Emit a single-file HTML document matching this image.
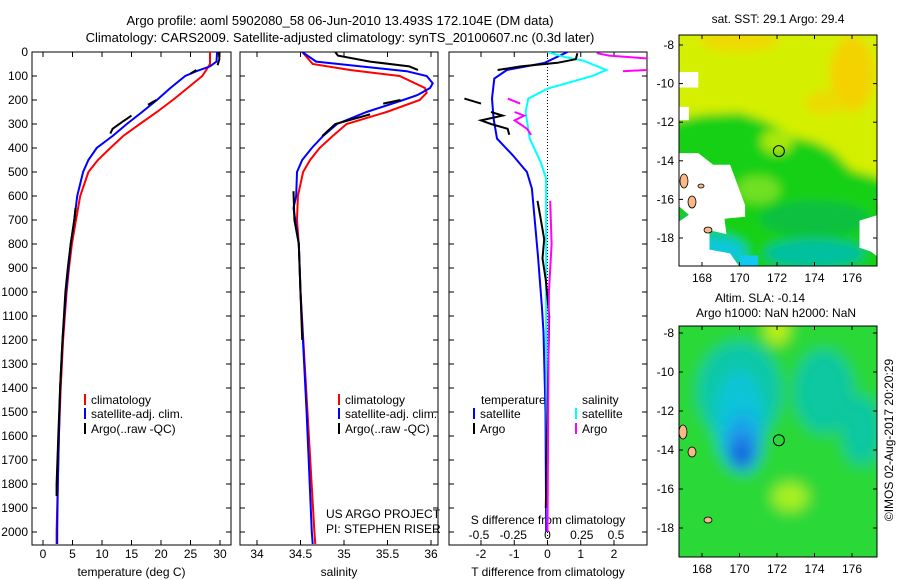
<!DOCTYPE html>
<html><head><meta charset="utf-8">
<style>
html,body{margin:0;padding:0;background:#fff;}
svg{display:block;font-family:"Liberation Sans",sans-serif;}
text{font-size:12px;fill:#000;}
</style></head>
<body>
<svg id="chart" width="900" height="580" viewBox="0 0 900 580">
<defs>
<filter id="blur1" x="-20%" y="-20%" width="140%" height="140%"><feGaussianBlur stdDeviation="5"/></filter>
<filter id="blur2" x="-20%" y="-20%" width="140%" height="140%"><feGaussianBlur stdDeviation="7"/></filter>
<clipPath id="clipM1"><rect x="679" y="35" width="198" height="231"/></clipPath>
<clipPath id="clipM2"><rect x="679" y="326" width="198" height="231"/></clipPath>
<clipPath id="clipP1"><rect x="32" y="52" width="199" height="493"/></clipPath>
<clipPath id="clipP2"><rect x="240" y="52" width="198" height="493"/></clipPath>
<clipPath id="clipP3"><rect x="449" y="52" width="198" height="493"/></clipPath>
</defs>
<text x="340" y="25" text-anchor="middle" style="font-size:13px">Argo profile: aoml 5902080_58 06-Jun-2010 13.493S 172.104E (DM data)</text>
<text x="340" y="42" text-anchor="middle" style="font-size:13px">Climatology: CARS2009. Satellite-adjusted climatology: synTS_20100607.nc (0.3d later)</text>
<g id="g-axes"></g>
<g id="g-lines"></g>
<g id="g-maps"></g>
</svg>
<script>
// ---------- data ----------
const depthTicks = [0,100,200,300,400,500,600,700,800,900,1000,1100,1200,1300,1400,1500,1600,1700,1800,1900,2000];
const tempTicks = [0,5,10,15,20,25,30];
const salTicks = [34,34.5,35,35.5,36];
const salTickLabels = ["34","34.5","35","35.5","36"];
const tdiffTicks = [-2,-1,0,1,2];
const sdiffTickLabels = ["-0.5","-0.25","0","0.25","0.5"];
const sdiffTicks = [-0.5,-0.25,0,0.25,0.5];

const tClimDepth = [0,50,70,100,150,200,250,300,350,400,450,500,600,700,800,900,1000,1200,1400,1600,1800,2000,2050];
const tClimVal   = [28.3,28.3,27.8,27.0,24.5,22,19.3,16.4,13.6,11.4,9.3,7.7,6.3,5.6,4.9,4.4,4.0,3.4,3.0,2.7,2.5,2.3,2.3];
const tSatDepth = [0,40,60,80,100,150,200,250,300,350,400,450,500,600,700,800,900,1000,1200,1400,1600,1800,2000,2050];
const tSatVal   = [29.5,29.4,28.3,26,24.1,21.6,19.3,16.8,14.2,11.8,9.1,7.7,6.8,5.8,5.3,4.7,4.3,3.9,3.3,2.9,2.7,2.5,2.4,2.4];
const tArgoDepth = [0,30,55,null,75,90,null,200,220,null,265,290,320,340,null,650,700,800,900,1000,1200,1400,1600,1800,1850];
const tArgoVal   = [29.8,29.9,29.6,null,26,25,null,19.2,17.8,null,15,13.5,11.8,11.4,null,5.5,5.3,4.7,4.2,3.8,3.3,2.9,2.6,2.3,2.3];

const sClimDepth = [0,50,75,100,150,170,200,250,300,350,400,450,500,600,700,800,1000,1500,2000,2050];
const sClimVal   = [34.52,34.64,35.07,35.64,35.93,35.95,35.87,35.49,35.03,34.87,34.72,34.61,34.53,34.47,34.46,34.48,34.5,34.58,34.66,34.67];
const sSatDepth = [0,40,80,100,130,150,180,200,250,300,350,400,450,500,600,650,800,1000,1500,2000,2050];
const sSatVal   = [34.52,34.68,35.72,35.95,36.02,35.99,35.84,35.68,35.26,34.92,34.76,34.63,34.52,34.46,34.45,34.42,34.48,34.5,34.57,34.63,34.64];
const sArgoDepth = [0,15,40,60,75,null,200,215,null,260,280,300,350,null,580,700,800,1000,1200];
const sArgoVal   = [34.9,34.93,35.3,35.75,35.85,null,35.65,35.45,null,35.3,35.1,34.9,34.75,null,34.42,34.43,34.48,34.5,34.52];

const dTSatDepth = [0,46,75,111,194,278,361,431,500,569,708,847,1056,1167,1500,2000];
const dTSatVal   = [0.6,-0.1,-1.22,-1.6,-1.67,-1.62,-1.52,-1.04,-0.62,-0.47,-0.38,-0.29,-0.17,-0.12,-0.06,-0.04];
const dSSatDepth = [0,20,36,75,99,153,194,250,361,458,528,800,1200,1600,2000];
const dSSatVal   = [0,0.12,0.26,0.43,0.33,0,-0.14,-0.16,-0.13,-0.05,-0.01,-0.01,-0.01,-0.005,0];
const dTArgoDepth = [5,30,45,60,75,null,194,215,null,250,265,285,300,320,345,null,620,700,780,860,950,1100,1500,1900];
const dTArgoVal   = [0.9,0.85,0.3,-0.8,-1.5,null,-2.5,-2.0,null,-1.7,-1.35,-2.0,-1.7,-1.2,-1.15,null,-0.3,-0.2,-0.1,-0.15,-0.05,0.05,0.0,-0.05];
const dSArgoDepth = [5,15,30,50,null,70,80,null,194,215,null,250,265,285,300,320,345,null,620,800,1000,1500,2000];
const dSArgoVal   = [0.36,0.45,0.8,0.9,null,0.9,0.55,null,-0.29,-0.2,null,-0.24,-0.17,-0.24,-0.2,-0.15,-0.12,null,0.02,0.03,0.01,0.005,0];

const lonTicks = [168,170,172,174,176];
const latTicks = [-8,-10,-12,-14,-16,-18];

// ---------- scales ----------
const Y0=52, YB=545;
const yD = d => Y0 + d*0.24;
const xT = t => 43 + t*5.9;
const xS = s => 257 + (s-34)*87;
const xDT = t => 547.5 + t*33.25;
const xDS = s => 547.5 + s*137;
const m1x = lon => 702 + (lon-168)*18.75, m1y = lat => 45 + (-8-lat)*19.3;
const m2x = lon => 702 + (lon-168)*18.75, m2y = lat => 333 + (-8-lat)*19.5;

const NS='http://www.w3.org/2000/svg';
function mk(tag, parent, attrs){const e=document.createElementNS(NS,tag);for(const k in attrs)e.setAttribute(k,attrs[k]);parent.appendChild(e);return e;}
const gA=document.getElementById('g-axes'), gL=document.getElementById('g-lines'), gM=document.getElementById('g-maps');

// ---------- profile panels ----------
function panel(x0,x1,name,xs,ticks,labels,xlabel,depthLabels){
  const r=mk('rect',gA,{x:x0,y:Y0,width:x1-x0,height:YB-Y0,fill:'none',stroke:'#000','stroke-width':1});
  
  
  depthTicks.forEach(d=>{
    mk('line',gA,{x1:x0,x2:x0+5,y1:yD(d),y2:yD(d),stroke:'#000'});
    mk('line',gA,{x1:x1-5,x2:x1,y1:yD(d),y2:yD(d),stroke:'#000'});
    if(depthLabels){const t=mk('text',gA,{x:x0-4,y:yD(d)+4,'text-anchor':'end'});t.textContent=d;
      
      }
  });
  ticks.forEach((v,i)=>{
    const x=xs(v);
    mk('line',gA,{x1:x,x2:x,y1:YB,y2:YB-5,stroke:'#000'});
    mk('line',gA,{x1:x,x2:x,y1:Y0,y2:Y0+5,stroke:'#000'});
    const t=mk('text',gA,{x:x,y:558,'text-anchor':'middle'});t.textContent=labels[i];
    
    
  });
  const t=mk('text',gA,{x:(x0+x1)/2,y:576,'text-anchor':'middle'});t.textContent=xlabel;
  
  
}
panel(32,231,'temperature-panel',xT,tempTicks,tempTicks.map(String),'temperature (deg C)',true);
panel(240,438,'salinity-panel',xS,salTicks,salTickLabels,'salinity',false);
panel(449,647,'difference-panel',xDT,tdiffTicks,tdiffTicks.map(String),'T difference from climatology',false);
sdiffTicks.forEach((v,i)=>{
  const t=mk('text',gA,{x:xDS(v),y:539,'text-anchor':'middle'});t.textContent=sdiffTickLabels[i];
  
  
});
{const t=mk('text',gA,{x:548,y:524,'text-anchor':'middle'});t.textContent='S difference from climatology';

}
{const l=mk('line',gA,{x1:547.5,x2:547.5,y1:Y0,y2:YB,stroke:'#000','stroke-dasharray':'1,2'});

}

function profile(depths,vals,xs,color,name,clip){
  let pts=[];const segs=[];
  depths.forEach((d,i)=>{ if(d===null||vals[i]===null){ if(pts.length) segs.push(pts); pts=[]; } else pts.push(xs(vals[i]).toFixed(1)+','+yD(d).toFixed(1)); });
  if(pts.length) segs.push(pts);
  segs.forEach(s=>{
    const p=mk('polyline',gL,{points:s.join(' '),fill:'none',stroke:color,'stroke-width':2,'clip-path':'url(#'+clip+')'});
    
    
  });
}
profile(tClimDepth,tClimVal,xT,'#ff0000','temp-climatology-line','clipP1');
profile(tSatDepth,tSatVal,xT,'#0000ff','temp-satellite-line','clipP1');
profile(tArgoDepth,tArgoVal,xT,'#000','temp-argo-line','clipP1');
profile(sClimDepth,sClimVal,xS,'#ff0000','sal-climatology-line','clipP2');
profile(sSatDepth,sSatVal,xS,'#0000ff','sal-satellite-line','clipP2');
profile(sArgoDepth,sArgoVal,xS,'#000','sal-argo-line','clipP2');
profile(dTSatDepth,dTSatVal,xDT,'#0000ff','tdiff-satellite-line','clipP3');
profile(dSSatDepth,dSSatVal,xDS,'#00ffff','sdiff-satellite-line','clipP3');
profile(dTArgoDepth,dTArgoVal,xDT,'#000','tdiff-argo-line','clipP3');
profile(dSArgoDepth,dSArgoVal,xDS,'#ff00ff','sdiff-argo-line','clipP3');

// legends
function legend(x,y,color,label,name){
  if(color){const r=mk('rect',gA,{x:x,y:y-10,width:2,height:11,fill:color});
  
  }
  const t=mk('text',gA,{x:x+7,y:y});t.textContent=label;
  
  
}
legend(84,404,'#ff0000','climatology','legend-climatology');
legend(84,418,'#0000ff','satellite-adj. clim.','legend-satellite');
legend(84,433,'#000','Argo(..raw -QC)','legend-argo');
legend(338,404,'#ff0000','climatology','legend-climatology');
legend(338,418,'#0000ff','satellite-adj. clim.','legend-satellite');
legend(338,433,'#000','Argo(..raw -QC)','legend-argo');
legend(474,404,null,'temperature','legend-temperature');
legend(473,418,'#0000ff','satellite','legend-t-satellite');
legend(473,433,'#000','Argo','legend-t-argo');
legend(575,404,null,'salinity','legend-salinity');
legend(575,418,'#00ffff','satellite','legend-s-satellite');
legend(575,433,'#ff00ff','Argo','legend-s-argo');
{const t=mk('text',gA,{x:326,y:518});t.textContent='US ARGO PROJECT';

const t2=mk('text',gA,{x:326,y:533});t2.textContent='PI: STEPHEN RISER';
}

// ---------- maps ----------
function mapAxes(top,h,yf,name){
  lonTicks.forEach(l=>{const x=m1x(l);
    mk('line',gM,{x1:x,x2:x,y1:top+h,y2:top+h-4,stroke:'#000'});
    mk('line',gM,{x1:x,x2:x,y1:top,y2:top+4,stroke:'#000'});
    const t=mk('text',gM,{x:x,y:top+h+16,'text-anchor':'middle'});t.textContent=l;
    });
  latTicks.forEach(l=>{const y=yf(l);
    mk('line',gM,{x1:679,x2:683,y1:y,y2:y,stroke:'#000'});
    mk('line',gM,{x1:873,x2:877,y1:y,y2:y,stroke:'#000'});
    const t=mk('text',gM,{x:674,y:y+4,'text-anchor':'end'});t.textContent=l;
    });
  const r=mk('rect',gM,{x:679,y:top,width:198,height:h,fill:'none',stroke:'#000'});
  
}
function P(xf,yf,pts){return pts.map(p=>xf(p[0]).toFixed(1)+','+yf(p[1]).toFixed(1)).join(' ');}
// map 1 SST
{const g=mk('g',gM,{'clip-path':'url(#clipM1)'});
 const b=mk('g',g,{filter:'url(#blur1)'});
 mk('rect',b,{x:660,y:20,width:240,height:270,fill:'#14d014'});
 mk('polygon',b,{points:P(m1x,m1y,[[166,-7],[178,-7],[178,-15],[176,-14.5],[175,-13.5],[174,-13],[173,-12.8],[172,-12.2],[171,-11.8],[170,-11.5],[168,-11.6],[166,-12]]),fill:'#d4f000'});
 mk('ellipse',b,{cx:m1x(176),cy:m1y(-9.5),rx:22,ry:38,fill:'#f4d200'});
 mk('ellipse',b,{cx:m1x(170),cy:m1y(-7.8),rx:40,ry:10,fill:'#f0d800'});
 mk('ellipse',b,{cx:m1x(174.5),cy:m1y(-11),rx:20,ry:12,fill:'#eadc00'});
 mk('ellipse',b,{cx:m1x(172),cy:m1y(-13),rx:16,ry:12,fill:'#a8e810'});
 mk('ellipse',b,{cx:m1x(171),cy:m1y(-15.5),rx:22,ry:14,fill:'#70e020'});
 mk('ellipse',b,{cx:m1x(174),cy:m1y(-17),rx:55,ry:18,fill:'#08c040'});
 mk('ellipse',b,{cx:m1x(174),cy:m1y(-18.8),rx:50,ry:14,fill:'#00c0a0'});
 mk('ellipse',b,{cx:m1x(168.5),cy:m1y(-18.7),rx:35,ry:16,fill:'#10c8d8'});
 mk('ellipse',b,{cx:m1x(167.5),cy:m1y(-17.3),rx:12,ry:10,fill:'#10b870'});
 const w=mk('g',g,{});
 mk('polygon',w,{points:P(m1x,m1y,[[166.7,-13.6],[167.8,-13.6],[168.6,-14.2],[169.5,-14.2],[169.8,-15],[170.3,-16.3],[170.3,-16.9],[169.2,-17],[169.3,-17.8],[168.4,-17.6],[168.4,-18.6],[169.5,-18.8],[170,-19.5],[166.7,-19.5],[166.7,-17.2],[167.3,-16.8],[166.7,-16.3]]),fill:'#fff'});
 mk('polygon',w,{points:P(m1x,m1y,[[166.7,-9.4],[167.8,-9.4],[167.8,-10.2],[166.7,-10.2]]),fill:'#fff'});
 mk('polygon',w,{points:P(m1x,m1y,[[166.7,-11.2],[167.3,-11.2],[167.3,-11.9],[166.7,-11.9]]),fill:'#fff'});
 mk('polygon',w,{points:P(m1x,m1y,[[177.4,-16.8],[176.4,-17.1],[176.4,-18.5],[177,-18.7],[177.4,-19]]),fill:'#fff'});
 mk('polygon',w,{points:P(m1x,m1y,[[170,-19.5],[170,-18.9],[171,-18.9],[171,-19.5]]),fill:'#10c8f0'});
 mk('ellipse',w,{cx:684,cy:181,rx:4,ry:7,fill:'#f8b888',stroke:'#000','stroke-width':0.8});
 mk('ellipse',w,{cx:692,cy:202,rx:4,ry:6,fill:'#f8b888',stroke:'#000','stroke-width':0.8});
 mk('ellipse',w,{cx:708,cy:230,rx:4,ry:3,fill:'#f8b888',stroke:'#000','stroke-width':0.8});
 mk('ellipse',w,{cx:701,cy:186,rx:3,ry:2,fill:'#f8b888',stroke:'#000','stroke-width':0.8});
 mapAxes(35,231,m1y,'sst-map');
 const c=mk('circle',gM,{cx:m1x(172.1),cy:m1y(-13.5),r:5.5,fill:'none',stroke:'#000'});
 
 const t=mk('text',gM,{x:778,y:23,'text-anchor':'middle'});t.textContent='sat. SST: 29.1  Argo: 29.4';
 }
// map 2 SLA
{const g=mk('g',gM,{'clip-path':'url(#clipM2)'});
 const b=mk('g',g,{filter:'url(#blur2)'});
 mk('rect',b,{x:660,y:310,width:240,height:270,fill:'#2cd838'});
 mk('ellipse',b,{cx:m2x(170),cy:m2y(-11),rx:42,ry:50,fill:'#10c8a8'});
 mk('ellipse',b,{cx:m2x(174.5),cy:m2y(-11),rx:30,ry:42,fill:'#10c8a0'});
 mk('ellipse',b,{cx:m2x(176.5),cy:m2y(-13),rx:20,ry:35,fill:'#10c8a0'});
 mk('ellipse',b,{cx:m2x(170),cy:m2y(-12.5),rx:24,ry:50,fill:'#10c4d8'});
 mk('ellipse',b,{cx:m2x(170.2),cy:m2y(-13.6),rx:18,ry:30,fill:'#18a8e8'});
 mk('ellipse',b,{cx:m2x(170.1),cy:m2y(-14),rx:14,ry:20,fill:'#2088e8'});
 mk('ellipse',b,{cx:m2x(170.1),cy:m2y(-14.2),rx:8,ry:11,fill:'#1060d8'});
 mk('ellipse',b,{cx:m2x(172),cy:m2y(-7.8),rx:12,ry:15,fill:'#c0f010'});
 mk('ellipse',b,{cx:m2x(172.7),cy:m2y(-16.4),rx:18,ry:14,fill:'#a8f020'});
 const w=mk('g',g,{});
 mk('ellipse',w,{cx:683,cy:432,rx:4,ry:7,fill:'#f8b888',stroke:'#000','stroke-width':0.8});
 mk('ellipse',w,{cx:692,cy:452,rx:4,ry:5,fill:'#f8b888',stroke:'#000','stroke-width':0.8});
 mk('ellipse',w,{cx:708,cy:520,rx:4,ry:3,fill:'#f8b888',stroke:'#000','stroke-width':0.8});
 mapAxes(326,231,m2y,'sla-map');
 const c=mk('circle',gM,{cx:m2x(172.1),cy:m2y(-13.5),r:5.5,fill:'none',stroke:'#000'});
 
 const t=mk('text',gM,{x:760,y:302,'text-anchor':'middle'});t.textContent='Altim. SLA: -0.14';
 
 const t2=mk('text',gM,{x:776,y:317,'text-anchor':'middle'});t2.textContent='Argo h1000: NaN h2000: NaN';
 
 const t3=mk('text',gM,{x:893,y:440,'text-anchor':'middle',transform:'rotate(-90 893 440)'});t3.textContent='©IMOS 02-Aug-2017 20:20:29';
 }
</script>
</body></html>
